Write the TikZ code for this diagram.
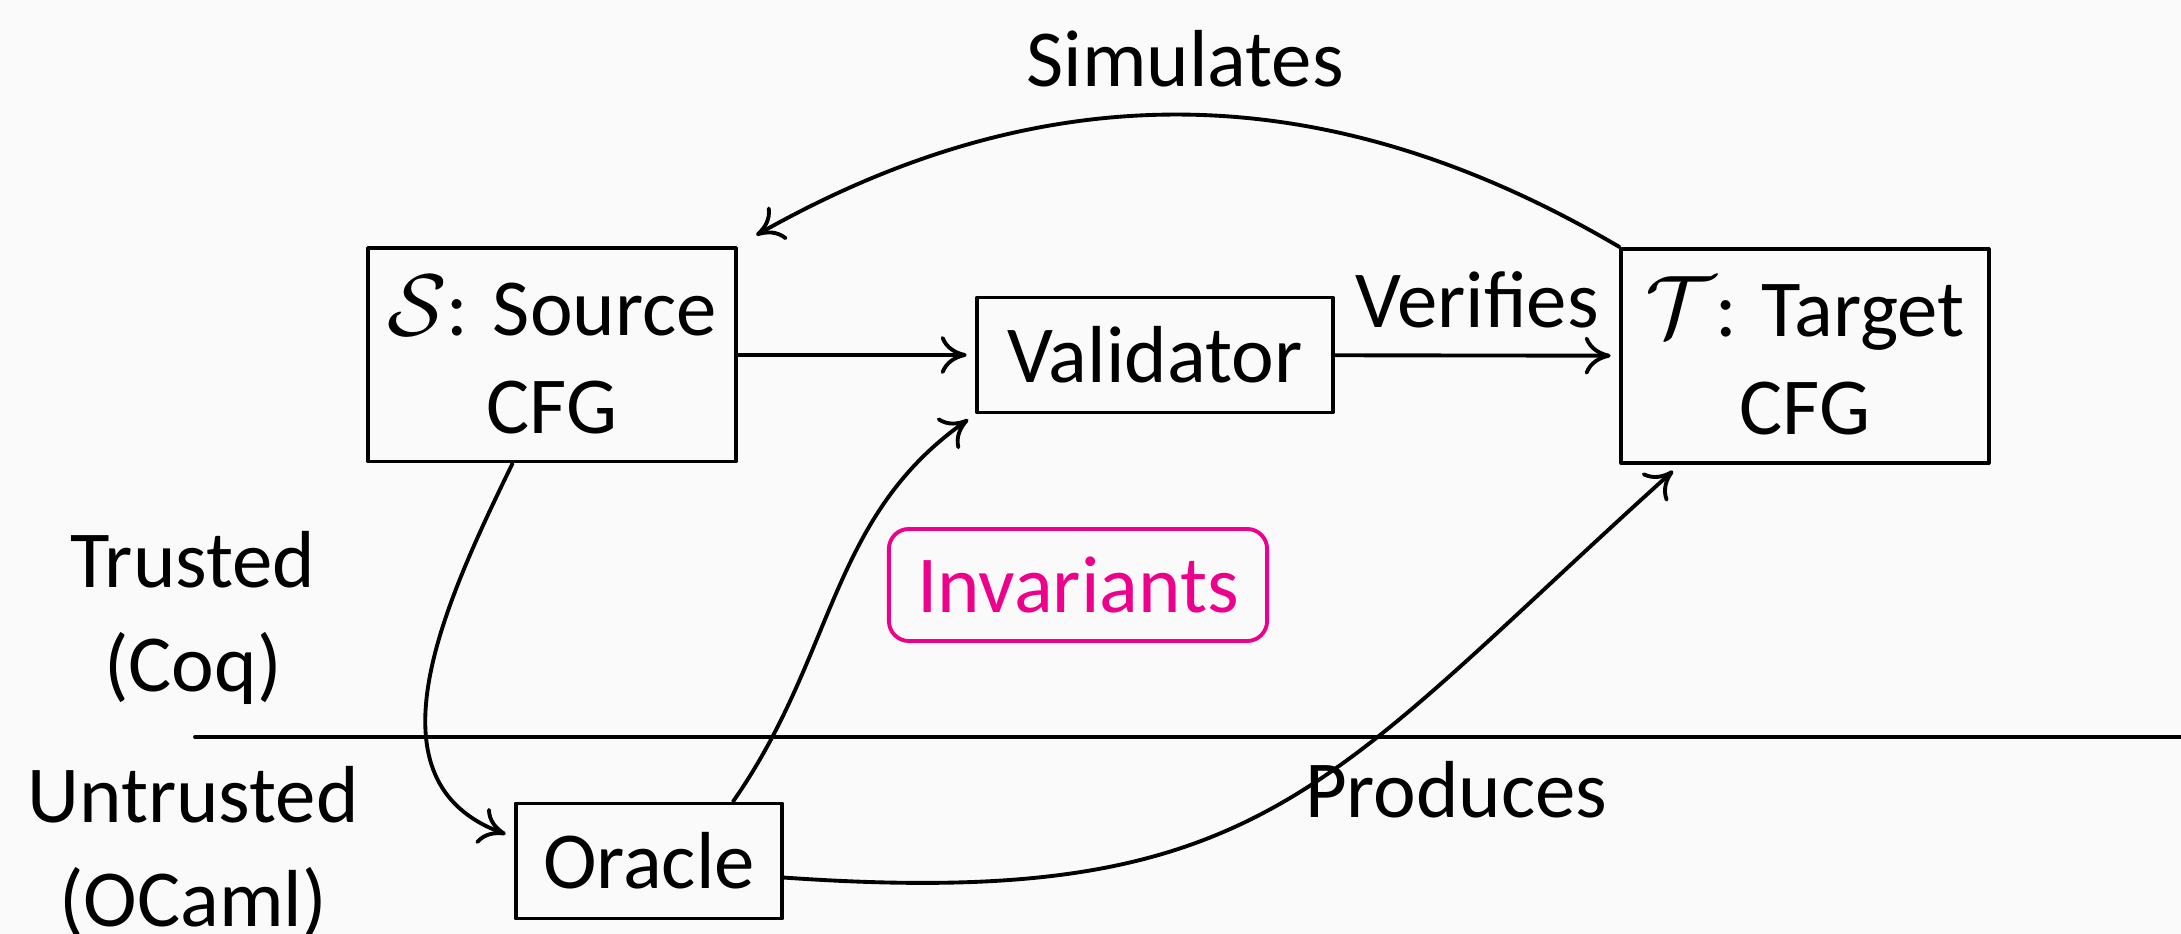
\documentclass[tikz,border=0pt]{standalone}
\usepackage{fontspec}
\setmainfont{Carlito}
\usetikzlibrary{arrows.meta}
\usetikzlibrary{calc}

\begin{document}
\begin{tikzpicture}[x=0.01cm, y=0.01cm, >={To[length=2.6mm,width=3.8mm]}, line cap=round, line join=round,
	font=\fontsize{23}{28}\selectfont]
			
			% Colors
			\definecolor{pinkA}{RGB}{236,0,140}
			\definecolor{paperA}{RGB}{250,250,250}
			
			\tikzset{
				box/.style={draw=black, line width=1.1pt, inner sep=0pt, align=center},
				flow/.style={->, line width=1.1pt, shorten >=2.5pt},
				lab/.style={align=center, font=\fontsize{23}{29.5}\selectfont},
			}
			
			% page
			\path[use as bounding box, fill=paperA] (0,-934) rectangle (2181,0);
			
			% --- Top row: source, validator, target
			\node[box, minimum width=3.67cm, minimum height=2.13cm] (source) at (552,-355) {$\mathcal{S}$: Source\\CFG};
			\node[box, minimum width=3.55cm, minimum height=1.15cm] (validator) at (1155,-355) {Validator};
			\node[box, minimum width=3.67cm, minimum height=2.14cm] (target) at (1805,-356) {$\mathcal{T}$: Target\\CFG};
			
			% --- Middle / bottom
			\node[box, draw=pinkA, text=pinkA, rounded corners=0.2cm, minimum width=3.78cm, minimum height=1.12cm] (inv) at (1078,-585) {Invariants};
			\node[box, minimum width=2.66cm, minimum height=1.15cm] (oracle) at (649,-861) {Oracle};
			
			% --- Trust boundary
			\node[lab] (trusted) at (193,-618) {Trusted\\(Coq)};
			\node[lab] (untrusted) at (193,-852) {Untrusted\\(OCaml)};
			\coordinate (divL) at (195,-737);
			\coordinate (divR) at (2181,-737);
			\draw[line width=1.1pt] (divL) -- (divR);
			
			% --- Arrows
			\draw[flow] (target.north west) to[bend right=30] node[above=0.15cm] (simlab) {Simulates} ([xshift=0.11cm,yshift=0.07cm]source.north east);
			\draw[flow] (source) -- (validator);
			\draw[flow] (validator) -- node[above=0.14cm] (verlab) {Verifies} (target);
			\draw[flow] (source.-110) to[out=-116, in=160, looseness=1.1] (oracle.170);
			\draw[flow] ([xshift=0.84cm]oracle.north) to[out=55, in=-145] (validator.south west);
			\draw[flow] (oracle.-7) to[out=-4, in=-138, looseness=1.25] node[pos=0.75, below=0.78cm] (prodlab) {Produces} (target.-139);
			
		\end{tikzpicture}
\end{document}
